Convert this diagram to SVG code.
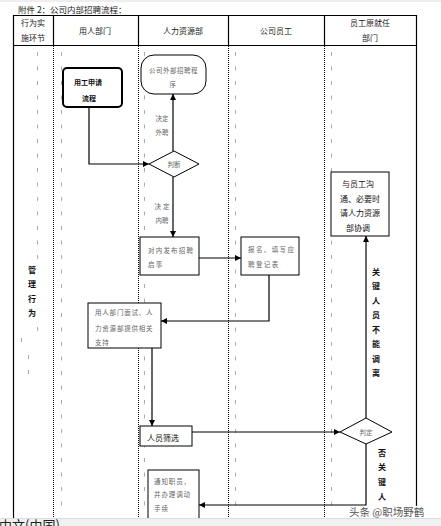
<svg xmlns="http://www.w3.org/2000/svg" width="441" height="526" viewBox="0 0 441 526">
<style>
text{font-family:"Noto Sans CJK SC","Noto Sans",sans-serif;}
.hd{font-size:8px;fill:#222;text-anchor:middle;}
.g{font-size:6.5px;fill:#666;}
.gm{font-size:6.5px;fill:#666;text-anchor:middle;}
.b{font-size:8px;fill:#111;font-weight:bold;text-anchor:middle;}
.box{fill:#fff;stroke:#000;stroke-width:1;}
.con{fill:none;stroke:#000;stroke-width:1.2;}
.dot{stroke:#000;stroke-width:1;stroke-dasharray:1 1;}
.sol{stroke:#000;stroke-width:1.2;}
</style>
<defs>
<marker id="ah" markerUnits="userSpaceOnUse" markerWidth="6" markerHeight="6" refX="6" refY="3" orient="auto">
<path d="M0,0 L6,3 L0,6 z" fill="#000"/>
</marker>
<pattern id="ticks" patternUnits="userSpaceOnUse" x="0" y="52" width="1" height="14.5">
<rect x="0" y="0" width="1" height="4" fill="#aaa"/>
</pattern>
</defs>
<rect width="441" height="526" fill="#fff"/>
<rect x="0" y="0" width="441" height="2" fill="#eee"/>
<text x="18" y="13" style="font-size:8.5px;fill:#222">附件 2：公司内部招聘流程：</text>
<g id="table">
<line class="sol" x1="13" y1="15.5" x2="417" y2="15.5"/>
<line class="sol" x1="13" y1="45.5" x2="417" y2="45.5"/>
<line class="sol" x1="13.5" y1="15" x2="13.5" y2="518"/>
<line class="sol" x1="416.5" y1="15" x2="416.5" y2="518"/>
<line class="sol" x1="53.5" y1="15" x2="53.5" y2="45"/>
<line class="sol" x1="138.5" y1="15" x2="138.5" y2="45"/>
<line class="sol" x1="228.5" y1="15" x2="228.5" y2="45"/>
<line class="sol" x1="324.5" y1="15" x2="324.5" y2="45"/>
<line class="dot" x1="53.5" y1="46" x2="53.5" y2="518"/>
<line class="dot" x1="138.5" y1="46" x2="138.5" y2="518"/>
<line class="dot" x1="228.5" y1="46" x2="228.5" y2="518"/>
<line class="dot" x1="324.5" y1="46" x2="324.5" y2="518"/>
<text class="hd" x="33" y="26">行为实</text>
<text class="hd" x="33" y="41">施环节</text>
<text class="hd" x="95" y="34">用人部门</text>
<text class="hd" x="183" y="34">人力资源部</text>
<text class="hd" x="276" y="34">公司员工</text>
<text class="hd" x="370" y="26">员工原就任</text>
<text class="hd" x="370" y="41">部门</text>
</g>
<g id="marks">
<rect x="37" y="52" width="1" height="210" fill="url(#ticks)"/>
<rect x="61" y="52" width="1" height="462" fill="url(#ticks)"/>
<rect x="144" y="52" width="1" height="462" fill="url(#ticks)"/>
<rect x="235" y="52" width="1" height="462" fill="url(#ticks)"/>
<rect x="331" y="52" width="1" height="462" fill="url(#ticks)"/>
<rect x="37" y="327" width="1" height="4" fill="#aaa"/>
<rect x="21" y="338" width="1" height="4" fill="#aaa"/>
<rect x="28" y="355" width="1" height="4" fill="#aaa"/>
<rect x="28" y="370" width="1" height="4" fill="#aaa"/>
</g>
<g id="lane-label">
<text class="b" x="32" y="273">管</text>
<text class="b" x="32" y="287">理</text>
<text class="b" x="32" y="302">行</text>
<text class="b" x="32" y="316">为</text>
</g>
<g id="connectors">
<path class="con" d="M89,107 V164 H149" marker-end="url(#ah)"/>
<path class="con" d="M173,151 V94" marker-end="url(#ah)"/>
<path class="con" d="M173,177 V237" marker-end="url(#ah)"/>
<path class="con" d="M199,258 H241" marker-end="url(#ah)"/>
<path class="con" d="M269,275 V321 H161" marker-end="url(#ah)"/>
<path class="con" d="M152,348 V426" marker-end="url(#ah)"/>
<path class="con" d="M192,432 H340" marker-end="url(#ah)"/>
<path class="con" d="M366,418 V236" marker-end="url(#ah)"/>
<path class="con" d="M366,444 V505 H199" marker-end="url(#ah)"/>
<text class="gm" x="162" y="120.5">决定</text>
<text class="gm" x="162" y="134.5">外聘</text>
<text class="gm" x="163" y="208.5" letter-spacing="2">决定</text>
<text class="gm" x="162" y="222.5">内聘</text>
<text class="b" x="376" y="275">关</text>
<text class="b" x="376" y="289">键</text>
<text class="b" x="376" y="304">人</text>
<text class="b" x="376" y="318">员</text>
<text class="b" x="376" y="333">不</text>
<text class="b" x="376" y="347">能</text>
<text class="b" x="376" y="362">调</text>
<text class="b" x="376" y="376">离</text>
<text class="b" x="382" y="456">否</text>
<text class="b" x="382" y="470">关</text>
<text class="b" x="382" y="485">键</text>
<text class="b" x="382" y="500">人</text>
</g>
<g id="n-apply">
<rect x="63" y="68" width="59" height="39" rx="4" fill="#fff" stroke="#000" stroke-width="2"/>
<text x="74" y="84.5" style="font-size:7px;font-weight:bold;fill:#111">用工申请</text>
<text x="82" y="100.5" style="font-size:7px;font-weight:bold;fill:#111">流程</text>
</g>
<g id="n-external">
<rect class="box" x="141" y="55" width="65" height="39" rx="13"/>
<text class="g" x="149" y="72.5" letter-spacing="0.5">公司外部招聘程</text>
<text class="g" x="169.5" y="86.5">序</text>
</g>
<g id="n-judge">
<polygon class="box" points="149,164 174,151 199,164 174,177"/>
<text class="gm" x="174" y="166.5">判断</text>
</g>
<g id="n-internal">
<rect class="box" x="140" y="237" width="59" height="38"/>
<text class="g" x="148" y="252.5" letter-spacing="1.2">对内发布招聘</text>
<text class="g" x="148" y="266.5" letter-spacing="1.2">启事</text>
</g>
<g id="n-register">
<rect class="box" x="241" y="237" width="58" height="38"/>
<text class="g" x="248" y="251.5" letter-spacing="1.4">报名、填写应</text>
<text class="g" x="248" y="266.5" letter-spacing="1.4">聘登记表</text>
</g>
<g id="n-interview">
<rect class="box" x="88" y="303" width="73" height="45"/>
<text class="g" x="95" y="314.5" letter-spacing="0.8">用人部门面试、人</text>
<text class="g" x="95" y="330.5" letter-spacing="0.8">力资源部提供相关</text>
<text class="g" x="95" y="344.5" letter-spacing="0.8">支持</text>
</g>
<g id="n-screen">
<rect class="box" x="140" y="426" width="52" height="20"/>
<text x="147" y="441" style="font-size:8px;fill:#111">人员筛选</text>
</g>
<g id="n-decide">
<polygon class="box" points="340,432 366,418 392,432 366,444"/>
<text class="gm" x="366" y="434.5">判定</text>
</g>
<g id="n-coord">
<rect class="box" x="331" y="172" width="58" height="64"/>
<text class="b" x="358" y="187" style="font-weight:normal">与员工沟</text>
<text class="b" x="360" y="202" style="font-weight:normal">通、必要时</text>
<text class="b" x="360" y="216" style="font-weight:normal">请人力资源</text>
<text class="b" x="358" y="231" style="font-weight:normal">部协调</text>
</g>
<g id="n-notify">
<rect class="box" x="148" y="470" width="51" height="60"/>
<text class="g" x="154" y="483.5" letter-spacing="0.9">通知职员，</text>
<text class="g" x="154" y="496.5" letter-spacing="0.9">并办理调动</text>
<text class="g" x="154" y="510.5" letter-spacing="0.9">手续</text>
</g>
<text x="349" y="516" style="font-size:10.5px;fill:#555;stroke:#fff;stroke-width:2;paint-order:stroke">头条 @职场野鹤</text>
<g id="statusbar">
<rect x="0" y="518" width="441" height="8" fill="#f0f0f0"/>
<line x1="0" y1="518.5" x2="441" y2="518.5" stroke="#ddd"/>
<text x="-1" y="530" style="font-size:13px;fill:#222">中文(中国)</text>
</g>
</svg>
